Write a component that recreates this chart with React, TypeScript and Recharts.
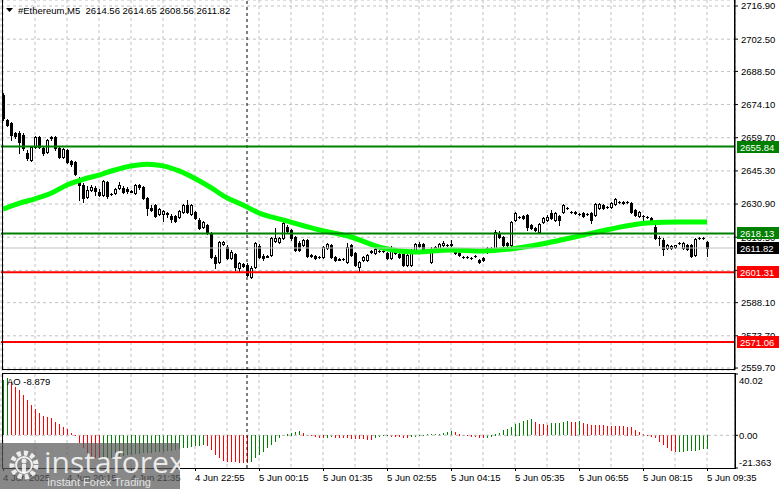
import { ComposedChart, Bar, Line, XAxis, YAxis, CartesianGrid, ReferenceLine } from 'recharts'

const FONT = '"Liberation Sans", Arial, sans-serif'

// M5 candles, 4 Jun 18:55 .. 5 Jun 09:35
const OPEN = [
  2678.3, 2667.4, 2666.1, 2661.8, 2661.8, 2660.9, 2653.1, 2650.0, 2655.7, 2660.0,
  2655.2, 2653.5, 2659.6, 2660.0, 2655.2, 2651.3, 2654.4, 2649.6, 2649.2, 2641.3,
  2639.2, 2634.0, 2637.0, 2637.9, 2636.1, 2634.8, 2640.5, 2635.3, 2635.7, 2637.9,
  2637.9, 2637.4, 2636.6, 2635.7, 2639.2, 2638.3, 2633.5, 2629.2, 2630.5, 2626.6,
  2626.6, 2627.0, 2625.7, 2625.7, 2625.3, 2627.5, 2630.5, 2626.6, 2627.5, 2624.0,
  2620.9, 2621.8, 2618.3, 2607.9, 2605.7, 2613.6, 2612.3, 2607.5, 2609.2, 2603.1,
  2604.9, 2604.4, 2599.2, 2603.6, 2612.7, 2608.3, 2608.3, 2608.8, 2614.9, 2614.4,
  2616.2, 2620.9, 2619.6, 2616.6, 2614.0, 2613.1, 2615.3, 2608.8, 2608.3, 2607.9,
  2607.9, 2611.8, 2613.1, 2607.9, 2607.0, 2607.0, 2605.7, 2613.1, 2609.7, 2603.6,
  2606.6, 2606.6, 2610.1, 2609.7, 2610.6, 2610.5, 2609.7, 2607.5, 2611.0, 2609.2,
  2609.2, 2604.4, 2604.4, 2611.0, 2613.6, 2613.6, 2611.0, 2605.7, 2611.4, 2611.8,
  2613.1, 2613.1, 2613.6, 2610.1, 2609.7, 2607.9, 2607.9, 2607.5, 2608.3, 2606.6,
  2607.5, 2610.1, 2611.8, 2611.8, 2618.3, 2616.6, 2614.0, 2613.1, 2624.0, 2625.3,
  2625.7, 2626.2, 2621.8, 2620.5, 2618.8, 2623.1, 2624.0, 2627.0, 2624.0, 2625.7,
  2627.5, 2629.2, 2627.5, 2627.5, 2626.6, 2627.0, 2626.6, 2627.0, 2626.2, 2629.2,
  2630.5, 2629.6, 2629.6, 2630.9, 2631.8, 2631.4, 2631.8, 2631.4, 2628.3, 2625.7,
  2625.7, 2625.3, 2624.8, 2620.9, 2616.2, 2615.3, 2611.8, 2611.8, 2612.3, 2614.0,
  2611.8, 2613.1, 2613.1, 2608.8, 2616.2, 2616.2, 2614.56,
]
const HIGH = [
  2679.1, 2667.8, 2666.5, 2662.2, 2662.6, 2661.8, 2654.4, 2656.1, 2660.5, 2660.5,
  2656.1, 2659.2, 2660.5, 2660.5, 2656.1, 2655.2, 2654.8, 2650.0, 2649.6, 2642.6,
  2640.0, 2638.7, 2639.2, 2638.7, 2637.4, 2641.3, 2640.9, 2635.7, 2637.9, 2640.5,
  2638.7, 2638.3, 2637.0, 2639.6, 2639.6, 2638.7, 2634.0, 2630.5, 2630.9, 2629.2,
  2628.3, 2627.5, 2626.6, 2626.2, 2628.3, 2630.9, 2632.7, 2630.9, 2627.9, 2624.8,
  2623.5, 2622.2, 2618.8, 2608.8, 2614.9, 2614.9, 2613.1, 2611.0, 2609.7, 2605.7,
  2605.3, 2605.3, 2604.0, 2614.4, 2613.6, 2609.2, 2608.8, 2616.6, 2620.5, 2616.6,
  2623.1, 2621.8, 2620.1, 2617.0, 2614.9, 2615.7, 2615.7, 2609.2, 2608.8, 2608.3,
  2612.7, 2614.0, 2613.6, 2608.3, 2607.5, 2607.5, 2614.0, 2613.6, 2610.1, 2606.2,
  2608.3, 2609.2, 2611.0, 2611.8, 2611.0, 2611.0, 2610.1, 2612.7, 2611.4, 2609.7,
  2609.7, 2609.2, 2611.4, 2614.0, 2614.4, 2614.0, 2611.4, 2612.3, 2612.7, 2614.0,
  2614.9, 2613.6, 2615.3, 2610.5, 2610.1, 2608.3, 2608.3, 2607.9, 2608.8, 2607.0,
  2607.9, 2612.3, 2612.3, 2619.6, 2619.2, 2617.0, 2614.4, 2623.5, 2627.5, 2625.7,
  2626.2, 2626.6, 2622.2, 2620.9, 2622.7, 2625.3, 2626.2, 2628.3, 2627.5, 2626.2,
  2630.9, 2629.6, 2627.9, 2627.9, 2627.0, 2627.5, 2627.0, 2627.5, 2631.4, 2631.4,
  2630.9, 2630.0, 2631.8, 2633.5, 2632.2, 2632.2, 2632.2, 2631.8, 2628.8, 2627.9,
  2626.2, 2625.7, 2625.3, 2621.8, 2617.0, 2616.2, 2613.6, 2613.1, 2613.1, 2614.4,
  2614.4, 2613.6, 2613.6, 2616.2, 2616.6, 2616.6, 2614.65,
]
const LOW = [
  2667.4, 2664.8, 2658.7, 2659.6, 2653.1, 2654.4, 2650.0, 2649.6, 2655.2, 2655.2,
  2652.2, 2653.1, 2658.7, 2654.4, 2650.9, 2650.9, 2648.7, 2647.4, 2643.5, 2632.7,
  2631.8, 2633.5, 2636.6, 2634.8, 2634.4, 2634.4, 2633.5, 2634.8, 2635.3, 2637.4,
  2635.7, 2635.7, 2636.1, 2635.3, 2637.4, 2633.1, 2626.2, 2627.9, 2625.3, 2626.2,
  2623.5, 2625.3, 2623.1, 2623.1, 2624.8, 2627.0, 2627.0, 2626.2, 2624.4, 2620.1,
  2620.5, 2617.9, 2607.5, 2603.1, 2605.3, 2613.1, 2607.0, 2607.0, 2602.3, 2601.8,
  2603.6, 2599.7, 2598.8, 2603.1, 2607.5, 2606.6, 2607.9, 2608.3, 2614.4, 2614.0,
  2615.7, 2618.8, 2615.3, 2610.5, 2610.5, 2612.7, 2607.9, 2607.9, 2607.0, 2607.5,
  2607.5, 2611.4, 2607.5, 2606.2, 2606.6, 2606.6, 2605.3, 2608.3, 2604.0, 2601.8,
  2606.2, 2606.2, 2609.7, 2609.2, 2610.1, 2610.1, 2607.0, 2607.0, 2609.2, 2607.5,
  2604.0, 2604.0, 2604.0, 2610.5, 2612.3, 2610.5, 2610.5, 2605.3, 2611.0, 2611.4,
  2612.7, 2612.7, 2612.7, 2609.2, 2608.3, 2607.5, 2607.5, 2607.0, 2607.9, 2605.3,
  2606.2, 2609.7, 2610.5, 2611.4, 2616.2, 2612.3, 2612.7, 2612.7, 2623.5, 2624.8,
  2624.4, 2619.6, 2620.1, 2619.2, 2618.3, 2622.7, 2623.5, 2624.4, 2623.5, 2621.8,
  2627.0, 2628.8, 2627.0, 2626.6, 2626.2, 2625.3, 2626.2, 2622.7, 2625.7, 2628.8,
  2628.8, 2629.2, 2629.2, 2630.5, 2631.4, 2630.9, 2631.4, 2627.0, 2625.7, 2625.3,
  2624.0, 2624.8, 2622.7, 2615.7, 2613.1, 2608.8, 2611.4, 2611.4, 2611.8, 2613.6,
  2611.4, 2611.0, 2607.9, 2608.3, 2615.7, 2615.7, 2608.56,
]
const CLOSE = [
  2668.3, 2665.2, 2660.9, 2660.5, 2657.8, 2655.2, 2650.9, 2655.7, 2660.0, 2655.7,
  2653.1, 2658.7, 2660.0, 2655.2, 2651.3, 2654.8, 2649.2, 2648.3, 2644.0, 2639.2,
  2633.5, 2637.0, 2638.3, 2636.6, 2634.8, 2640.9, 2634.4, 2635.1, 2637.4, 2639.2,
  2636.1, 2636.6, 2636.3, 2639.2, 2638.3, 2633.5, 2629.2, 2628.3, 2625.7, 2628.8,
  2627.9, 2626.6, 2624.4, 2623.5, 2627.9, 2630.5, 2627.5, 2630.5, 2624.8, 2620.5,
  2623.1, 2618.3, 2607.9, 2605.3, 2614.4, 2614.4, 2607.5, 2610.1, 2603.6, 2605.3,
  2604.0, 2600.1, 2603.1, 2614.0, 2607.9, 2607.5, 2608.1, 2616.2, 2616.2, 2616.2,
  2622.7, 2619.2, 2616.2, 2611.0, 2611.0, 2615.3, 2608.3, 2608.3, 2607.5, 2607.7,
  2612.3, 2613.6, 2607.9, 2606.6, 2606.8, 2607.1, 2612.3, 2608.8, 2604.4, 2605.7,
  2607.9, 2608.8, 2610.5, 2611.4, 2610.5, 2610.4, 2607.5, 2611.8, 2609.7, 2607.9,
  2604.4, 2608.8, 2611.0, 2613.6, 2612.7, 2611.0, 2610.8, 2611.0, 2612.3, 2613.6,
  2614.0, 2613.0, 2613.1, 2609.7, 2608.8, 2607.8, 2607.8, 2607.4, 2608.2, 2605.7,
  2606.6, 2611.8, 2611.0, 2618.8, 2616.6, 2613.1, 2613.1, 2623.1, 2627.0, 2625.2,
  2624.8, 2620.9, 2620.5, 2619.6, 2622.2, 2624.8, 2625.3, 2624.8, 2627.0, 2624.0,
  2630.5, 2629.1, 2627.4, 2627.0, 2626.5, 2625.7, 2626.5, 2624.0, 2630.9, 2630.9,
  2629.2, 2629.5, 2631.4, 2633.1, 2631.7, 2631.8, 2631.7, 2627.5, 2626.2, 2627.5,
  2625.6, 2625.2, 2623.1, 2616.2, 2616.1, 2611.4, 2613.1, 2612.7, 2613.1, 2613.9,
  2614.0, 2611.4, 2608.3, 2615.7, 2616.1, 2616.1, 2611.82,
]

// moving average, read at these bar indexes
const MA_AT = [0, 4, 8, 12, 16, 20, 24, 28, 32, 36, 40, 44, 48, 52, 56, 60, 64, 70, 78, 87, 95, 103, 112, 120, 127, 136, 144, 152, 161, 169, 176]
const MA = [
  2628.7, 2631.2, 2633.2, 2635.6, 2639.2, 2641.6, 2643.5, 2645.7, 2647.4, 2648.2,
  2647.5, 2645.3, 2642.0, 2638.0, 2633.6, 2630.5, 2627.0, 2624.0, 2620.1, 2616.6,
  2611.8, 2610.1, 2611.0, 2610.5, 2611.4, 2614.0, 2617.0, 2620.1, 2622.7, 2623.1,
  2623.1,
]

// Awesome Oscillator
const AO = [
  36.0, 37.5, 34.8, 31.5, 29.5, 26.2, 23.0, 19.7, 17.1, 14.4,
  12.5, 11.8, 11.2, 8.5, 7.2, 5.2, 3.9, 1.5, -0.5, -5.1,
  -8.5, -11.8, -13.5, -15.0, -16.0, -15.6, -15.1, -14.7, -14.2, -13.9,
  -13.5, -13.2, -13.0, -12.6, -12.4, -12.0, -11.9, -11.6, -11.3, -11.1,
  -10.8, -10.5, -10.3, -10.0, -9.0, -8.6, -8.2, -7.8, -7.4, -7.0,
  -6.5, -7.2, -9.8, -13.1, -15.3, -16.9, -17.5, -17.7, -17.9, -18.0,
  -18.1, -18.3, -17.5, -15.3, -13.1, -10.9, -8.75, -6.6, -4.4, -2.2,
  -0.7, 1.1, 1.75, 2.2, 2.8, 1.75, 0.4, -0.1, -1.1, -1.75,
  -2.2, -1.8, -1.6, -1.8, -1.9, -2.0, -2.2, -2.3, -2.4, -2.6,
  -2.9, -3.3, -3.4, -2.2, -1.1, -0.7, -0.4, -1.1, -1.3, -1.5,
  -1.8, -2.2, -1.5, -1.0, -0.3, 0.4, 0.6, 0.8, 0.9, 1.1,
  1.4, 2.0, 2.8, 2.2, 1.1, 0.4, -0.4, -1.1, -1.5, -1.9,
  -2.2, -1.8, -1.0, 1.1, 1.5, 3.3, 4.4, 5.5, 7.6, 8.3,
  9.2, 10.3, 10.5, 8.75, 7.65, 7.4, 7.0, 7.9, 8.1, 8.3,
  8.5, 9.2, 9.0, 8.9, 9.2, 7.9, 7.6, 6.8, 6.6, 6.5,
  6.4, 6.3, 6.2, 6.1, 6.0, 5.9, 5.6, 5.2, 3.7, 2.2,
  1.1, 0.2, -1.1, -1.75, -4.4, -6.6, -8.75, -10.5, -11.4, -11.3,
  -10.9, -10.7, -10.6, -10.2, -9.8, -9.3, -8.879,
]

const PRICE_TICKS = [2716.9, 2702.5, 2688.5, 2674.1, 2659.7, 2645.3, 2630.9, 2616.5, 2602.1, 2588.1, 2573.7, 2559.7]
const PRICE_DOMAIN = [2558.85, 2719.5]
const AO_TICKS = [40.02, 0, -21.363]
const TIME_LABELS = ['4 Jun 2025', '4 Jun 20:15', '4 Jun 21:35', '4 Jun 22:55', '5 Jun 00:15', '5 Jun 01:35', '5 Jun 02:55', '5 Jun 04:15', '5 Jun 05:35', '5 Jun 06:55', '5 Jun 08:15', '5 Jun 09:35']
const LABEL_AT = [0, 16, 32, 48, 64, 80, 96, 112, 128, 144, 160, 176]
const GRID_AT = [0, 8, 16, 24, 32, 40, 48, 56, 64, 72, 80, 88, 96, 104, 112, 120, 128, 136, 144, 152, 160, 168, 176]
const DAY_BREAK = 61 // 5 Jun 00:00
const SLOTS = 183

const LEVELS = [
  { value: 2655.84, color: '#008000', width: 2, tag: '#008000' },
  { value: 2618.13, color: '#008000', width: 2, tag: '#008000' },
  { value: 2611.82, color: '#c0c0c0', width: 1, tag: '#000000' },
  { value: 2601.31, color: '#ff0000', width: 2, tag: '#ff0000' },
  { value: 2571.06, color: '#ff0000', width: 2, tag: '#ff0000' },
]

const rows = Array.from({ length: SLOTS }, (_, i) => {
  const has = i < CLOSE.length
  const m = MA_AT.indexOf(i)
  return {
    i,
    o: has ? OPEN[i] : null,
    h: has ? HIGH[i] : null,
    l: has ? LOW[i] : null,
    c: has ? CLOSE[i] : null,
    hl: has ? [LOW[i], HIGH[i]] : null,
    ma: m >= 0 ? MA[m] : null,
    ao: has ? AO[i] : null,
    aoUp: has ? i === 0 || AO[i] > AO[i - 1] : false,
  }
})

function Candle(p: any) {
  const d = p.payload
  if (!d || d.o == null || p.height == null) return null
  const top = Math.min(p.y, p.y + p.height)
  const bot = Math.max(p.y, p.y + p.height)
  const span = d.h - d.l || 1
  const yAt = (v: number) => top + ((d.h - v) / span) * (bot - top)
  const cx = Math.round(p.x + p.width / 2)
  const yo = Math.round(yAt(d.o))
  const yc = Math.round(yAt(d.c))
  const bTop = Math.min(yo, yc)
  const bBot = Math.max(yo, yc)
  let body
  if (bBot - bTop < 1) body = <rect x={cx - 1} y={bTop} width={3} height={1} fill="#000" />
  else if (d.c > d.o) body = <rect x={cx - 0.5} y={bTop + 0.5} width={2} height={bBot - bTop} fill="#fff" stroke="#000" strokeWidth={1} />
  else body = <rect x={cx - 1} y={bTop} width={3} height={bBot - bTop + 1} fill="#000" />
  return (
    <g>
      <line x1={cx + 0.5} x2={cx + 0.5} y1={Math.round(top)} y2={Math.round(bot) + 1} stroke="#000" strokeWidth={1} />
      {body}
    </g>
  )
}

function AoBar(p: any) {
  const d = p.payload
  if (!d || d.ao == null || p.height == null) return null
  const cx = Math.round(p.x + p.width / 2)
  const y0 = Math.min(p.y, p.y + p.height)
  const h = Math.abs(p.height)
  return <rect x={cx} y={Math.round(y0)} width={1} height={Math.max(1, Math.round(h))} fill={d.aoUp ? '#008000' : '#ff0000'} />
}

const priceTag = (value: number, color: string) => (props: any) => {
  const vb = props.viewBox
  if (!vb) return null
  const x = vb.x + vb.width + 2
  const y = Math.round(vb.y)
  return (
    <g>
      <rect x={x} y={y - 6} width={42} height={12} fill={color} />
      <text x={x + 3} y={y + 4} fill="#fff" fontSize={9.5} fontFamily={FONT}>{value.toFixed(2)}</text>
    </g>
  )
}

function TimeTick(p: any) {
  const idx = LABEL_AT.indexOf(p.payload.value)
  if (idx < 0) return null
  const x = Math.round(p.x)
  return (
    <g>
      <line x1={x + 0.5} x2={x + 0.5} y1={p.y} y2={p.y + 3} stroke="#000" />
      <text x={x} y={p.y + 13} fontSize={9.5} fontFamily={FONT} fill="#000">{TIME_LABELS[idx]}</text>
    </g>
  )
}

function AoTick(p: any) {
  const v = p.payload.value
  const dy = v === AO_TICKS[0] ? 6 : v === AO_TICKS[2] ? -6 : 0
  const txt = v === 0 ? '0.00' : String(v)
  return (
    <text x={p.x} y={p.y + dy + 3.5} fontSize={9.5} fontFamily={FONT} fill="#000">{txt}</text>
  )
}

const MAIN_MARGIN = { top: 0, right: 0, bottom: 1, left: 1 }

export default function App() {
  return (
    <div style={{ position: 'absolute', left: 0, top: 0, width: 781, height: 489, background: '#fff', overflow: 'hidden', fontFamily: FONT }}>
      <div style={{ position: 'absolute', left: 0, top: 0 }}>
        <ComposedChart width={781} height={371} data={rows} margin={MAIN_MARGIN} barCategoryGap={0}>
          <CartesianGrid stroke="#c0c0c0" strokeDasharray="3 3" />
          <XAxis dataKey="i" hide ticks={GRID_AT} interval={0} padding={{ left: 0, right: 2 }} />
          <YAxis
            orientation="right"
            width={46}
            domain={PRICE_DOMAIN}
            ticks={PRICE_TICKS}
            allowDataOverflow
            interval={0}
            stroke="#000"
            tickSize={3}
            tickMargin={3}
            tickFormatter={(v: number) => v.toFixed(2)}
            tick={{ fontSize: 9.5, fill: '#000', fontFamily: FONT }}
          />
          <ReferenceLine x={DAY_BREAK} stroke="#000" strokeDasharray="3 3" />
          <Line dataKey="ma" type="monotone" connectNulls stroke="#00ff00" strokeWidth={5} dot={false} activeDot={false} isAnimationActive={false} />
          <Bar dataKey="hl" shape={Candle} isAnimationActive={false} />
        </ComposedChart>
      </div>

      {/* level lines and price tags, drawn above the axis labels */}
      <div style={{ position: 'absolute', left: 0, top: 0, pointerEvents: 'none' }}>
        <ComposedChart width={781} height={371} data={rows} margin={MAIN_MARGIN}>
          <XAxis dataKey="i" hide padding={{ left: 0, right: 2 }} />
          <YAxis orientation="right" width={46} domain={PRICE_DOMAIN} allowDataOverflow tick={false} axisLine={false} tickLine={false} />
          {LEVELS.map((lv) => (
            <ReferenceLine key={lv.value} y={lv.value} stroke={lv.color} strokeWidth={lv.width} label={priceTag(lv.value, lv.tag)} />
          ))}
        </ComposedChart>
      </div>

      <div style={{ position: 'absolute', left: 0, top: 371 }}>
        <ComposedChart width={781} height={118} data={rows} margin={{ top: 3, right: 0, bottom: 0, left: 1 }} barCategoryGap={0}>
          <CartesianGrid stroke="#c0c0c0" strokeDasharray="3 3" horizontal={false} />
          <XAxis dataKey="i" ticks={GRID_AT} interval={0} height={21} axisLine={false} tickLine={false} tickSize={0} tickMargin={0} tick={TimeTick} padding={{ left: 0, right: 2 }} />
          <YAxis
            orientation="right"
            width={46}
            domain={[AO_TICKS[2], AO_TICKS[0]]}
            ticks={AO_TICKS}
            allowDataOverflow
            interval={0}
            stroke="#000"
            tickSize={3}
            tickMargin={1}
            tick={AoTick}
          />
          <ReferenceLine y={0} stroke="#c0c0c0" strokeDasharray="3 3" />
          <ReferenceLine x={DAY_BREAK} stroke="#000" strokeDasharray="3 3" />
          <Bar dataKey="ao" shape={AoBar} isAnimationActive={false} />
        </ComposedChart>
      </div>

      {/* panel frames */}
      <div style={{ position: 'absolute', left: 2, top: -1, width: 733, height: 371, border: '1px solid #000', boxSizing: 'border-box', pointerEvents: 'none' }} />
      <div style={{ position: 'absolute', left: 2, top: 373, width: 734, height: 96, border: '1px solid #000', boxSizing: 'border-box', pointerEvents: 'none' }} />

      {/* header and indicator label */}
      <svg style={{ position: 'absolute', left: 0, top: 0 }} width={260} height={20}>
        <polygon points="6,8 13,8 9.5,12" fill="#000" />
        <text x={18} y={14} fontSize={9.5} fontFamily={FONT} fill="#000" style={{ whiteSpace: 'pre' }}>
          {'#Ethereum,M5  2614.56 2614.65 2608.56 2611.82'}
        </text>
      </svg>
      <div style={{ position: 'absolute', left: 7, top: 377, fontSize: 9.5, lineHeight: '10px', color: '#000' }}>AO -8.879</div>

      {/* watermark */}
      <div style={{ position: 'absolute', left: 0, top: 443, width: 180, height: 46, background: 'rgba(90,90,90,0.72)' }}>
        <svg width={180} height={46} style={{ position: 'absolute', left: 0, top: 0 }}>
          <g fill="none" stroke="rgba(255,255,255,0.85)">
            <circle cx={24} cy={22} r={12} strokeWidth={5} strokeDasharray="4 3" />
            <circle cx={24} cy={22} r={8} strokeWidth={2} />
          </g>
          <circle cx={24} cy={18} r={2.5} fill="rgba(255,255,255,0.85)" />
          <rect x={22} y={21} width={4} height={9} fill="rgba(255,255,255,0.85)" />
          <text x={44} y={30} fontSize={30} fontFamily='"Open Sans", sans-serif' fill="rgba(255,255,255,0.85)">instaforex</text>
          <text x={47} y={43} fontSize={11} fontFamily={FONT} fill="rgba(255,255,255,0.8)">Instant Forex Trading</text>
        </svg>
      </div>
    </div>
  )
}
